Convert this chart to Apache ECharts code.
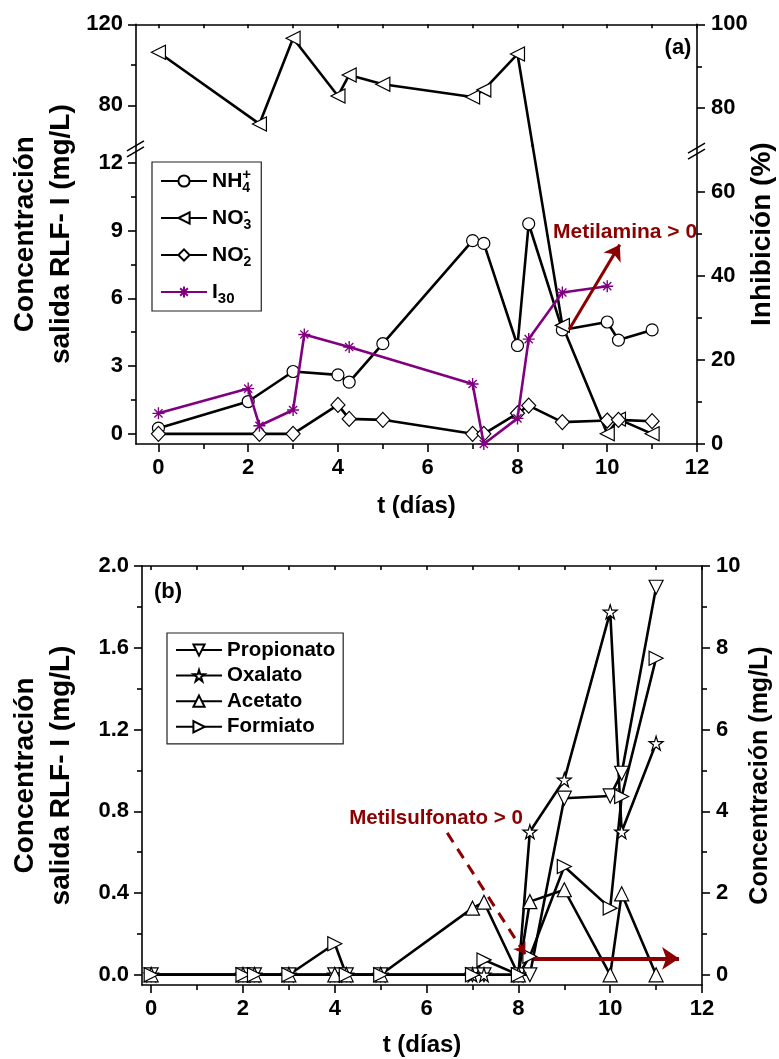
<!DOCTYPE html>
<html><head><meta charset="utf-8">
<script src="https://cdn.jsdelivr.net/npm/echarts@6/dist/echarts.min.js"></script>
<style>html,body{margin:0;padding:0;background:#fff}#c{width:779px;height:1059px}</style>
</head><body><div id="c"></div>
<script>
// ================= DATA =================
// Panel (a)
const nh4Days = [0, 2, 3, 4, 4.25, 5, 7, 7.25, 8, 8.25, 9, 10, 10.25, 11];
const nh4Vals = [0.25, 1.43, 2.76, 2.61, 2.29, 3.99, 8.55, 8.43, 3.91, 9.3, 4.6, 4.95, 4.15, 4.6];
const no3Days = [0, 2.25, 3, 4, 4.25, 5, 7, 7.25, 8, 9, 10, 10.25, 11];
const no3Vals = [106.2, 70.8, 113.1, 84.6, 95, 90.4, 84.1, 87.6, 105.3, 4.8, 0, 0.65, 0];
const no2Days = [0, 2.25, 3, 4, 4.25, 5, 7, 7.25, 8, 8.25, 9, 10, 10.25, 11];
const no2Vals = [0, 0, 0, 1.28, 0.66, 0.62, 0, 0, 0.91, 1.25, 0.52, 0.59, 0.62, 0.56];
const i30Days = [0, 2, 2.25, 3, 3.25, 4.25, 7, 7.25, 8, 8.25, 9, 10];
const i30Vals = [7.3, 13.2, 4.35, 8.1, 26.1, 23.1, 14.3, 0, 6.1, 25, 36.1, 37.6];
const arrowMetilamina = [[9.15, 27.3], [10.28, 47.5]];

// Panel (b)
const orgDays    = [0, 2, 2.25, 3, 4, 4.25, 5, 7, 7.25, 8, 8.25, 9, 10, 10.25, 11];
const propionato = [0, 0, 0, 0, 0, 0, 0, 0, 0, 0, 0, 0.864, 0.875, 0.986, 1.896];
const oxalato    = [0, 0, 0, 0, 0, 0, 0, 0, 0, 0, 0.70, 0.954, 1.776, 0.70, 1.133];
const acetato    = [0, 0, 0, 0, 0, 0, 0, 0.326, 0.355, 0, 0.358, 0.416, 0, 0.396, 0];
const formiato   = [0, 0, 0, 0, 0.152, 0, 0, 0, 0.073, 0, 0.09, 0.53, 0.326, 0.872, 1.549];
const arrowMetilsulfDashed = [[6.45, 0.694], [8.15, 0.1]];
const arrowMetilsulfSolid  = [[8.33, 0.08], [11.5, 0.08]];

// Tick values
const xMajor = [0, 2, 4, 6, 8, 10, 12];
const xMinor = [1, 3, 5, 7, 9, 11];
const xAll = [0, 1, 2, 3, 4, 5, 6, 7, 8, 9, 10, 11, 12];
const yUpMajor = [80, 120], yUpMinor = [100];
const yLowMajor = [0, 3, 6, 9, 12], yLowMinor = [1.5, 4.5, 7.5, 10.5];
const inhMajor = [0, 20, 40, 60, 80, 100], inhMinor = [10, 30, 50, 90];
const bLMajor = [0, 0.4, 0.8, 1.2, 1.6, 2.0], bLMinor = [0.2, 0.6, 1.0, 1.4, 1.8];
const bRMajor = [0, 2, 4, 6, 8, 10], bRMinor = [1, 3, 5, 7, 9];

// ================= STYLE / LAYOUT =================
const FONT = "'Liberation Sans', Arial, Helvetica, sans-serif";
const BLACK = '#000', RED = '#8B0000', PURPLE = '#800080';
const TOP = {left: 136, right: 697, top: 24.3, join: 145.8, bottom: 444};
const BOT = {left: 142, right: 702, top: 566, bottom: 985};
const X_TOP = [-0.5, 12], X_BOT = [-0.2, 12];
const Y_UP = [60, 120], Y_LOW = [-0.45, 12.75], Y_INH = [0, 100];
const Y_BL = [-0.05, 2.0], Y_BR = [-0.25, 10];
const AXW = 1.6, LW = 2.6;
const TICKFONT = {color: BLACK, fontSize: 22, fontWeight: 'bold', fontFamily: FONT};
const nameFont = (size, lh) => ({color: BLACK, fontSize: size, fontWeight: 'bold', fontFamily: FONT, lineHeight: lh});

const zip = (a, b) => a.map((d, i) => [d, b[i]]);

const grids = [
  {left: TOP.left, top: TOP.top, width: TOP.right - TOP.left, height: TOP.join - TOP.top},
  {left: TOP.left, top: TOP.join, width: TOP.right - TOP.left, height: TOP.bottom - TOP.join},
  {left: TOP.left, top: TOP.top, width: TOP.right - TOP.left, height: TOP.bottom - TOP.top},
  {left: BOT.left, top: BOT.top, width: BOT.right - BOT.left, height: BOT.bottom - BOT.top}
].map(g => Object.assign(g, {containLabel: false, outerBoundsMode: 'none'}));

const xAxes = [], yAxes = [];
function ax(list, o) {
  list.push({
    type: 'value', gridIndex: o.grid, position: o.pos, min: o.range[0], max: o.range[1],
    show: o.show !== false,
    axisLine: {show: !!o.line, onZero: false, lineStyle: {color: BLACK, width: AXW}},
    axisTick: {show: !!o.ticks, inside: !!o.inside, length: o.len || 8,
               customValues: o.ticks, lineStyle: {color: BLACK, width: AXW}},
    axisLabel: Object.assign({show: !!o.labels, customValues: o.labels, margin: o.margin || 13,
               formatter: o.fmt}, TICKFONT),
    splitLine: {show: false}, minorTick: {show: false},
    name: o.name, nameLocation: 'middle', nameGap: o.nameGap, nameRotate: o.rot,
    nameMoveOverlap: false, nameTextStyle: o.rot ? nameFont(o.nsize || 28, 36) : nameFont(24, 28), z: 3
  });
  return list.length - 1;
}
// x axes
const xUp = ax(xAxes, {grid: 0, pos: 'bottom', range: X_TOP, show: false});
const xLow = ax(xAxes, {grid: 1, pos: 'bottom', range: X_TOP, show: false});
const xA = ax(xAxes, {grid: 2, pos: 'bottom', range: X_TOP, line: true, ticks: xMajor, labels: xMajor,
                      name: 't (días)', nameGap: 48, rot: 0});
ax(xAxes, {grid: 2, pos: 'bottom', range: X_TOP, ticks: xMinor, len: 5});
ax(xAxes, {grid: 2, pos: 'top', range: X_TOP, line: true, ticks: xAll, inside: true, len: 4});
const xB = ax(xAxes, {grid: 3, pos: 'bottom', range: X_BOT, line: true, ticks: xMajor, labels: xMajor,
                      name: 't (días)', nameGap: 46, rot: 0});
ax(xAxes, {grid: 3, pos: 'bottom', range: X_BOT, ticks: xMinor, len: 5});
ax(xAxes, {grid: 3, pos: 'top', range: X_BOT, line: true, ticks: xAll, inside: true, len: 4});
// y axes
const yUp = ax(yAxes, {grid: 0, pos: 'left', range: Y_UP, line: true, ticks: yUpMajor, labels: yUpMajor});
ax(yAxes, {grid: 0, pos: 'left', range: Y_UP, ticks: yUpMinor, len: 5});
const yLow = ax(yAxes, {grid: 1, pos: 'left', range: Y_LOW, line: true, ticks: yLowMajor, labels: yLowMajor});
ax(yAxes, {grid: 1, pos: 'left', range: Y_LOW, ticks: yLowMinor, len: 5});
const yInh = ax(yAxes, {grid: 2, pos: 'right', range: Y_INH, line: true, ticks: inhMajor, labels: inhMajor,
                        margin: 14, name: 'Inhibición (%)', nameGap: 47, rot: 90, nsize: 28});
ax(yAxes, {grid: 2, pos: 'right', range: Y_INH, ticks: inhMinor, len: 5});
ax(yAxes, {grid: 2, pos: 'left', range: [0, 1], name: 'Concentración\nsalida RLF- I (mg/L)', nameGap: 57, rot: 90});
const yBL = ax(yAxes, {grid: 3, pos: 'left', range: Y_BL, line: true, ticks: bLMajor, labels: bLMajor,
                       fmt: v => v.toFixed(1), name: 'Concentración\nsalida RLF- I (mg/L)', nameGap: 63, rot: 90});
ax(yAxes, {grid: 3, pos: 'left', range: Y_BL, ticks: bLMinor, len: 5});
const yBR = ax(yAxes, {grid: 3, pos: 'right', range: Y_BR, line: true, ticks: bRMajor, labels: bRMajor,
                       margin: 14, name: 'Concentración (mg/L)', nameGap: 40, rot: 90, nsize: 25});
ax(yAxes, {grid: 3, pos: 'right', range: Y_BR, ticks: bRMinor, len: 5});

// symbols
const STAR5 = 'path://M50,0L61,35L98,35L68,57L79,91L50,70L21,91L32,57L2,35L39,35Z';
const ASTER = 'path://M5,0L5,10M0,5L10,5M1.6,1.6L8.4,8.4M1.6,8.4L8.4,1.6';
function lineSeries(o) {
  return {
    type: 'line', id: o.id, name: o.name, xAxisIndex: o.x, yAxisIndex: o.y, data: o.data,
    symbol: o.symbol, symbolSize: o.size || 13, symbolRotate: o.rotate || 0, showSymbol: true,
    showAllSymbol: true, clip: true, z: o.z || 4,
    lineStyle: {color: o.color || BLACK, width: LW},
    itemStyle: {color: '#fff', borderColor: o.color || BLACK, borderWidth: o.bw || 1.2},
    emphasis: {disabled: true}, animation: false
  };
}
const no3Up = [], no3Low = [];
no3Days.forEach((d, i) => (no3Vals[i] >= Y_UP[0] ? no3Up : no3Low).push([d, no3Vals[i]]));

function arrow(id, x, y, coords, width, size, dashed) {
  return {
    type: 'lines', id, coordinateSystem: 'cartesian2d', xAxisIndex: x, yAxisIndex: y,
    data: [{coords}], symbol: ['none', 'arrow'], symbolSize: size, silent: true, z: 6,
    lineStyle: {color: RED, width, opacity: 1, type: dashed ? [11, 8] : 'solid'}, animation: false
  };
}

const series = [
  lineSeries({id: 'nh4', name: 'NH4', x: xLow, y: yLow, data: zip(nh4Days, nh4Vals), symbol: 'circle', size: 12}),
  lineSeries({id: 'no3up', name: 'NO3', x: xUp, y: yUp, data: no3Up, symbol: 'triangle', rotate: 90, size: 14}),
  lineSeries({id: 'no3low', name: 'NO3', x: xLow, y: yLow, data: no3Low, symbol: 'triangle', rotate: 90, size: 14}),
  lineSeries({id: 'no2', name: 'NO2', x: xLow, y: yLow, data: zip(no2Days, no2Vals), symbol: 'diamond', size: [14, 15]}),
  lineSeries({id: 'i30', name: 'I30', x: xA, y: yInh, data: zip(i30Days, i30Vals), symbol: ASTER, size: 12,
              color: PURPLE, bw: 1.4, z: 5}),
  arrow('arrA', xA, yInh, arrowMetilamina, 3, 15, false),
  lineSeries({id: 'prop', name: 'Propionato', x: xB, y: yBL, data: zip(orgDays, propionato), symbol: 'triangle', rotate: 180, size: 14}),
  lineSeries({id: 'oxa', name: 'Oxalato', x: xB, y: yBL, data: zip(orgDays, oxalato), symbol: STAR5, size: 14}),
  lineSeries({id: 'ace', name: 'Acetato', x: xB, y: yBL, data: zip(orgDays, acetato), symbol: 'triangle', size: 14}),
  lineSeries({id: 'form', name: 'Formiato', x: xB, y: yBL, data: zip(orgDays, formiato), symbol: 'triangle', rotate: -90, size: 14}),
  arrow('arrB1', xB, yBL, arrowMetilsulfDashed, 3, 11, true),
  arrow('arrB2', xB, yBL, arrowMetilsulfSolid, 4, 17, false)
];

const legendBase = {
  orient: 'vertical', selectedMode: false, borderColor: '#222', borderWidth: 1.2,
  itemWidth: 46, itemHeight: 14, itemGap: 9, backgroundColor: '#fff'
};
const legends = [
  Object.assign({}, legendBase, {
    left: 152, top: 162, padding: [5, 10, 5, 8], data: ['NH4', 'NO3', 'NO2', 'I30'],
    formatter: n => ({NH4: 'NH{sb|4}{sp|+}', NO3: 'NO{sb|3}{sp|-}', NO2: 'NO{sb|2}{sp|-}', I30: 'I{s2|30}'})[n],
    textStyle: {color: BLACK, fontSize: 21, fontWeight: 'bold', fontFamily: FONT, lineHeight: 28,
      rich: {
        sb: {fontSize: 14, fontWeight: 'bold', fontFamily: FONT, verticalAlign: 'bottom', lineHeight: 13, width: 0},
        sp: {fontSize: 15, fontWeight: 'bold', fontFamily: FONT, verticalAlign: 'top', lineHeight: 14},
        s2: {fontSize: 15, fontWeight: 'bold', fontFamily: FONT, verticalAlign: 'bottom', lineHeight: 14}
      }}
  }),
  Object.assign({}, legendBase, {
    left: 167, top: 633, padding: [6, 8, 6, 8], itemGap: 3.6,
    data: ['Propionato', 'Oxalato', 'Acetato', 'Formiato'],
    textStyle: {color: BLACK, fontSize: 20.5, fontWeight: 'bold', fontFamily: FONT, lineHeight: 22}
  })
];

const option = {
  backgroundColor: '#fff', animation: false,
  grid: grids, xAxis: xAxes, yAxis: yAxes, series, legend: legends
};

const chart = echarts.init(document.getElementById('c'), null, {renderer: 'canvas'});
chart.setOption(option);

// ---- bridge the NO3 segment that crosses the axis break (computed through the axes) ----
const upFinder = {xAxisIndex: xUp, yAxisIndex: yUp}, lowFinder = {xAxisIndex: xLow, yAxisIndex: yLow};
const lastUp = no3Up[no3Up.length - 1], firstLow = no3Low[0];
const pUp = chart.convertToPixel(upFinder, lastUp);
const pLow = chart.convertToPixel(lowFinder, firstLow);
const bUp = chart.convertFromPixel(upFinder, pLow);
const bLow = chart.convertFromPixel(lowFinder, pUp);

// ---- decorations ----
function breakMark(x, y) {
  return {type: 'group', x, y, z: 100, children: [
    {type: 'polygon', shape: {points: [[-9, 3], [8, -7], [8, -1], [-9, 9]]}, style: {fill: '#fff'}},
    {type: 'line', shape: {x1: -9, y1: 3, x2: 8, y2: -7}, style: {stroke: BLACK, lineWidth: 1.5}},
    {type: 'line', shape: {x1: -9, y1: 9, x2: 8, y2: -1}, style: {stroke: BLACK, lineWidth: 1.5}}
  ]};
}
const yBreakR = chart.convertToPixel({yAxisIndex: yInh}, 70);
const txt = (text, x, y, color, size, align) => ({type: 'text', x, y, z: 100,
  style: {text, fill: color, fontSize: size, fontWeight: 'bold', fontFamily: FONT,
          align: align || 'center', verticalAlign: 'middle'}});

chart.setOption({
  series: [
    {id: 'no3up', data: no3Up.concat([{value: bUp, symbol: 'none'}])},
    {id: 'no3low', data: [{value: bLow, symbol: 'none'}].concat(no3Low)}
  ],
  graphic: [
    breakMark(TOP.left, TOP.join + 2),
    breakMark(TOP.right, yBreakR),
    txt('(a)', 678, 48, BLACK, 22),
    txt('(b)', 168, 592, BLACK, 22),
    txt('Metilamina > 0', 553, 232, RED, 21, 'left'),
    txt('Metilsulfonato > 0', 436, 818, RED, 20.5)
  ]
});
</script></body></html>
